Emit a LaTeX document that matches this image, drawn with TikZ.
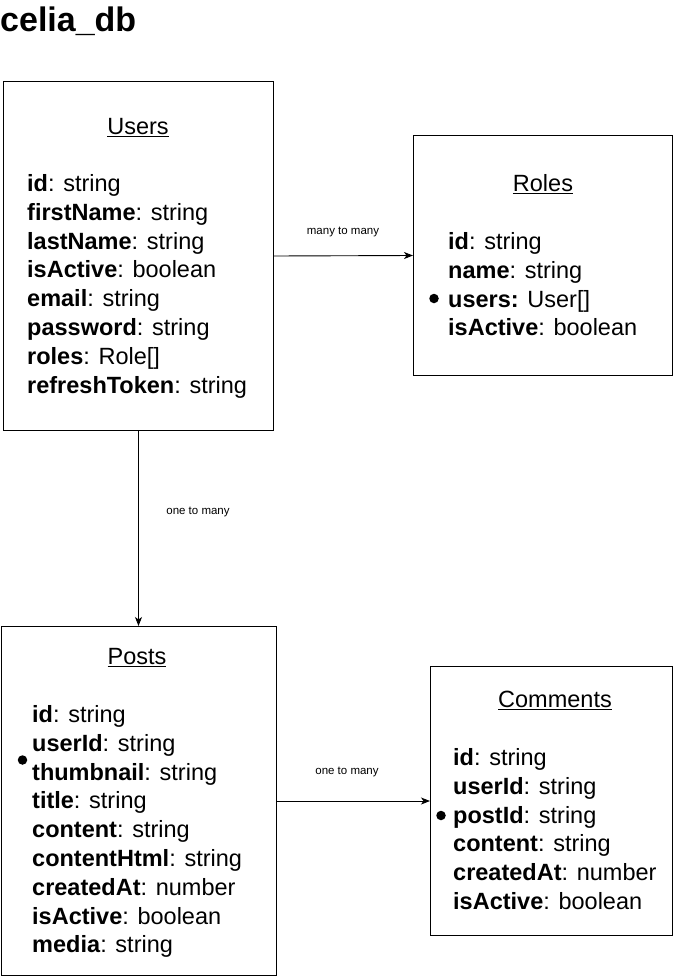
\documentclass[tikz,border=0pt]{standalone}
\usepackage{fontspec}
\setmainfont{Liberation Sans}
\usetikzlibrary{arrows.meta}
\begin{document}
\begin{tikzpicture}[x=1pt,y=-1pt,
  box/.style={draw=black, line width=1pt, anchor=north west, inner sep=0pt},
  field/.style={anchor=base west, inner sep=0pt, font=\fontsize{23.5}{29}\selectfont},
  ttl/.style={anchor=base, inner sep=0pt, font=\fontsize{23.5}{29}\selectfont},
  rel/.style={inner sep=0pt, font=\fontsize{11.5}{14}\selectfont},
  conn/.style={draw=black, line width=0.9pt, -{Stealth[length=9pt,width=7pt,inset=2.5pt]}},
  dot/.style={circle, fill=black, inner sep=0pt, minimum size=9.5pt}
]
\useasboundingbox (0,0) rectangle (681,977);
\node[anchor=base west, inner sep=0pt, font=\fontsize{34}{40}\selectfont\bfseries] (title) at (0,31) {celia\_db};

% boxes
\node[box, minimum width=270pt, minimum height=349pt] (users) at (3,81) {};
\node[box, minimum width=259pt, minimum height=240pt] (roles) at (413,135) {};
\node[box, minimum width=275pt, minimum height=349pt] (posts) at (0.5,626) {};
\node[box, minimum width=242pt, minimum height=269pt] (comments) at (430,666) {};

% Users
\node[ttl] (usersT) at (138,134.5) {\underline{Users}};
\foreach \b/\r [count=\i from 0] in {id/string, firstName/string, lastName/string, isActive/boolean, email/string, password/string, roles/{Role[]}, refreshToken/string}
  \node[field] (u\i) at (27,{191.5+28.8*\i}) {\textbf{\b}: \r};

% Roles
\node[ttl] (rolesT) at (543,191.5) {\underline{Roles}};
\node[field] (r0) at (448,249.5) {\textbf{id}: string};
\node[field] (r1) at (448,278.3) {\textbf{name}: string};
\node[field] (r2) at (448,307.1) {\textbf{users:} User[]};
\node[field] (r3) at (448,335.9) {\textbf{isActive}: boolean};
\node[dot] (rdot) at (434,298.5) {};

% Posts
\node[ttl] (postsT) at (137,664.5) {\underline{Posts}};
\foreach \b/\r [count=\i from 0] in {id/string, userId/string, thumbnail/string, title/string, content/string, contentHtml/string, createdAt/number, isActive/boolean, media/string}
  \node[field] (p\i) at (32,{722.5+28.8*\i}) {\textbf{\b}: \r};
\node[dot] (pdot) at (22.5,760) {};

% Comments
\node[ttl] (commentsT) at (555,707.5) {\underline{Comments}};
\foreach \b/\r [count=\i from 0] in {id/string, userId/string, postId/string, content/string, createdAt/number, isActive/boolean}
  \node[field] (c\i) at (453,{765.5+28.8*\i}) {\textbf{\b}: \r};
\node[dot] (cdot) at (441,815.5) {};

% connectors
\draw[conn] (users.east) -- (roles.west);
\draw[conn] (users.south) -- (users.south |- posts.north);
\draw[conn] (posts.east) -- (comments.west);

\node[rel] (l1) at (343,231.5) {many to many};
\node[rel] (l2) at (198,511.5) {one to many};
\node[rel] (l3) at (347,771.5) {one to many};
\end{tikzpicture}
\end{document}
